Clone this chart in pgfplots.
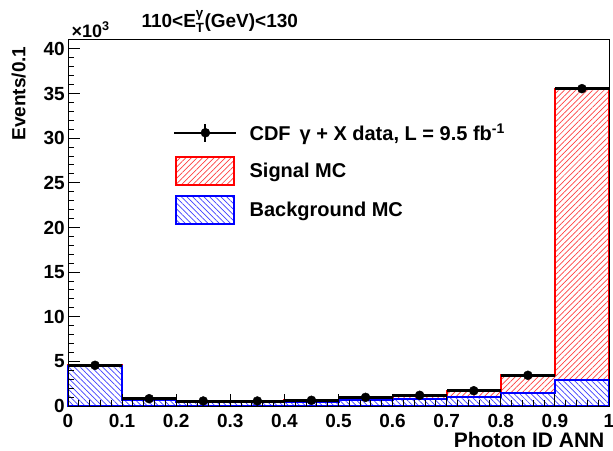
\documentclass[border=0pt]{standalone}
\usepackage{fontspec}
\setmainfont{Liberation Sans}
\usepackage{amsmath}
\usepackage{pgfplots}
\pgfplotsset{compat=1.18}
\usetikzlibrary{patterns.meta}

\pgfplotstableread{
x    tot    bg
0.0  4.56   4.50
0.1  0.82   0.65
0.2  0.56   0.45
0.3  0.56   0.45
0.4  0.64   0.50
0.5  0.97   0.67
0.6  1.20   0.78
0.7  1.71   0.97
0.8  3.44   1.42
0.9  35.55  2.90
1.0  35.55  2.90
}\mc

\pgfplotstableread{
x     y      ex
0.05  4.56   0.05
0.15  0.82   0.05
0.25  0.56   0.05
0.35  0.56   0.05
0.45  0.64   0.05
0.55  0.97   0.05
0.65  1.20   0.05
0.75  1.71   0.05
0.85  3.44   0.05
0.95  35.55  0.05
}\data

\begin{document}
\begin{tikzpicture}
\begin{axis}[
  name=ax,
  width=541bp, height=366bp, scale only axis,
  xmin=0, xmax=1, ymin=0, ymax=41,
  axis on top, clip=false,
  axis line style={line width=1bp},
  tick style={line width=1bp, black},
  tick align=inside,
  xtick pos=left, ytick pos=left,
  xtick={0,0.1,0.2,0.3,0.4,0.5,0.6,0.7,0.8,0.9,1},
  xticklabels={0,0.1,0.2,0.3,0.4,0.5,0.6,0.7,0.8,0.9,1},
  ytick={0,5,10,15,20,25,30,35,40},
  yticklabels={0,5,10,15,20,25,30,35,40},
  minor x tick num=4, minor y tick num=4,
  major tick length=12bp, minor tick length=6bp,
  /pgf/number format/assume math mode=true,
  ticklabel style={font=\bfseries\fontsize{19bp}{22bp}\selectfont},
  xticklabel style={inner sep=0pt, yshift=-8bp},
  yticklabel style={inner sep=0pt, xshift=-3bp},
  legend style={draw=none, fill=none, inner sep=0pt,
    at={(rel axis cs:0.194,0.64)}, anchor=west,
    font=\bfseries\fontsize{20bp}{24bp}\selectfont,
    row sep=9bp, nodes={inner sep=0pt}},
  legend cell align=left,
]
\addlegendimage{legend image code/.code={
  \path (0bp,-14bp) (75bp,14bp);
  \draw[black, line width=2.5bp] (0bp,0bp)--(62bp,0bp);
  \draw[black, line width=2bp] (31bp,-9bp)--(31bp,9bp);
  \fill[black] (31bp,0bp) circle (4.5bp);}}
\addlegendentry{CDF \,γ + X data, L = 9.5 fb\textsuperscript{-1}}
\addlegendimage{legend image code/.code={
  \path (0bp,0bp) (75bp,0bp);
  \draw[red, line width=2bp, pattern={Lines[angle=45,distance=4bp,line width=0.7bp]}, pattern color=red!75] (2bp,-14bp) rectangle (60bp,14bp);}}
\addlegendentry{Signal MC}
\addlegendimage{legend image code/.code={
  \path (0bp,0bp) (75bp,0bp);
  \draw[blue, line width=2bp, pattern={Lines[angle=-45,distance=4bp,line width=0.7bp]}, pattern color=blue!75] (2bp,-14bp) rectangle (60bp,14bp);}}
\addlegendentry{Background MC}

% signal + background (stacked total)
\addplot[forget plot, const plot, draw=red, line width=2bp,
  pattern={Lines[angle=45,distance=4bp,line width=0.7bp]}, pattern color=red!75]
  table[x=x, y=tot] {\mc} \closedcycle;
% background
\addplot[forget plot, const plot, draw=blue, line width=2.2bp,
  preaction={fill=white},
  pattern={Lines[angle=-45,distance=4bp,line width=0.7bp]}, pattern color=blue!75]
  table[x=x, y=bg] {\mc} \closedcycle;
% data
\addplot[forget plot, only marks, mark=*, mark size=4.5bp, black,
  error bars/.cd, x dir=both, x explicit, error mark=none,
  error bar style={line width=3bp, black}]
  table[x=x, y=y, x error=ex] {\data};

\node[anchor=base west, font=\bfseries\fontsize{18bp}{20bp}\selectfont] at (rel axis cs:0,1.008) {×10\textsuperscript{3}};
\node[anchor=base west, font=\bfseries\fontsize{19bp}{22bp}\selectfont] at (rel axis cs:0.1294,1.0355) {110<$\text{E}_{\text{T}}^{\text{γ}}$(GeV)<130};
\node[rotate=90, anchor=base east, font=\bfseries\fontsize{19bp}{22bp}\selectfont] at (rel axis cs:-0.0786,0.9918) {Events/0.1};
\node[anchor=base east, font=\bfseries\fontsize{21bp}{24bp}\selectfont] at (rel axis cs:0.998,-0.113) {Photon ID ANN};
\end{axis}
\pgfresetboundingbox
\path ([shift={(-68bp,-45bp)}]ax.south west) rectangle ([shift={(4bp,40bp)}]ax.north east);
\end{tikzpicture}
\end{document}
